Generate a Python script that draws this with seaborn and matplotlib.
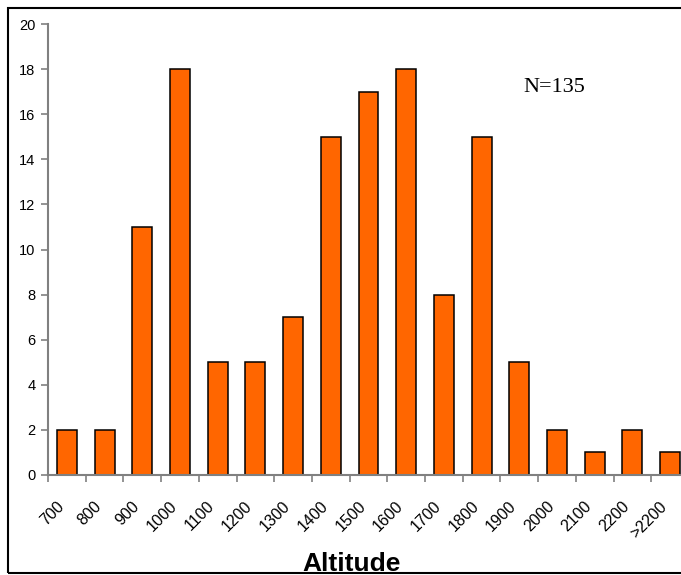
import matplotlib
matplotlib.use("Agg")
import matplotlib.pyplot as plt
import seaborn as sns
import pandas as pd
from matplotlib.patches import Rectangle
from matplotlib.ticker import FixedLocator

categories = ["700", "800", "900", "1000", "1100", "1200", "1300", "1400", "1500",
              "1600", "1700", "1800", "1900", "2000", "2100", "2200", ">2200"]
counts = [2, 2, 11, 18, 5, 5, 7, 15, 17, 18, 8, 15, 5, 2, 1, 2, 1]
y_ticks = list(range(0, 21, 2))

sns.set_theme(style="white")
plt.rcParams['font.family'] = ['Liberation Sans', 'DejaVu Sans']

df = pd.DataFrame({"Altitude": categories, "Count": counts})

W, H = 681, 575
fig = plt.figure(figsize=(W / 100, H / 100), dpi=100)
ax = fig.add_axes([48 / W, (H - 475) / H, 641 / W, (475 - 24) / H])

sns.barplot(data=df, x="Altitude", y="Count", order=categories, color="#FF6600",
            saturation=1, width=0.53, edgecolor="black", linewidth=1.1, ax=ax)

ax.set_xlim(-0.5, len(categories) - 0.5)
ax.set_ylim(0, 20)
ax.set_yticks(y_ticks)
ax.set_yticklabels([str(v) for v in y_ticks], fontsize=10.5, color="black")

ax.set_xticks(range(len(categories)))
ax.set_xticklabels(categories, rotation=45, ha="right", fontsize=11.5, color="black")
ax.tick_params(axis="x", which="major", length=0, pad=17)
ax.xaxis.set_minor_locator(FixedLocator([i - 0.5 for i in range(len(categories) + 1)]))
ax.tick_params(axis="x", which="minor", bottom=True, length=5, width=1.2, color="#808080", direction="out")
ax.tick_params(axis="y", which="major", left=True, length=5, width=1.2, color="#808080", direction="out", pad=4)

for s in ["top", "right"]:
    ax.spines[s].set_visible(False)
for s in ["left", "bottom"]:
    ax.spines[s].set_color("#808080")
    ax.spines[s].set_linewidth(1.5)

ax.set_xlabel("")
ax.set_ylabel("")

fig.text(352 / W, (H - 571) / H, "Altitude", ha="center", va="baseline",
         fontsize=19, fontweight="bold", color="black")
fig.text(554 / W, (H - 92) / H, "N=135", ha="center", va="baseline",
         fontsize=16, family=["Liberation Serif", "DejaVu Serif"], color="black")

fig.patches.append(Rectangle((7.5 / W, (H - 573) / H), 2.0, (573 - 7.5) / H,
                             transform=fig.transFigure, fill=False,
                             edgecolor="black", linewidth=1.5, zorder=10))

fig.savefig("out.png", dpi=100)
